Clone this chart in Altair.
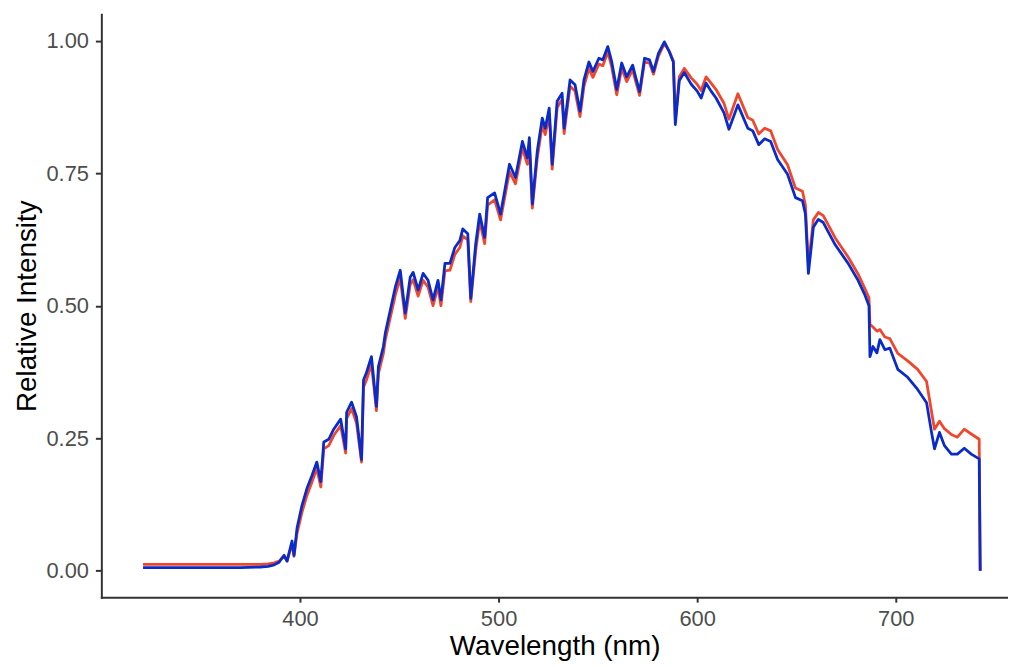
import altair as alt
import pandas as pd

wavelength = [321, 330, 340, 350, 360, 370, 380, 384, 387, 389.5, 391, 392, 393.5, 396, 397, 398.5,
              401, 403.5, 406, 408.5, 410.5, 412, 414.5, 417, 420.5, 423, 423.5, 426, 428.5, 431, 432,
              433.5, 436, 438.5, 439.5, 442, 443, 445.5, 448, 450.5, 453, 455.5, 457, 459.5, 462, 464.5,
              467, 469.5, 471, 473, 475.5, 478, 480.5, 482, 484.5, 486, 488.5, 490.5, 493, 494.5, 498,
              501, 505.5, 508.5, 512, 514.5, 515.5, 517, 519.5, 522, 523.5, 525.5, 527, 529.5, 532, 533,
              536, 538.5, 541, 543, 545.5, 547.5, 550.5, 552.5, 555, 557, 559.5, 562, 564.5, 567.5, 569,
              571, 573.5, 576, 578, 580.5, 583.5, 586, 588, 589, 591, 593.5, 597, 600, 602, 604.5, 607,
              609.5, 613.5, 616, 620.5, 625.5, 628, 631, 634, 637, 640.5, 645.5, 649.5, 653, 654.5, 656,
              658.5, 661, 663.5, 669.5, 676, 681, 684.5, 686.5, 687, 688.5, 690.5, 692, 694.5, 697, 701,
              706, 711, 715.5, 718, 719.5, 722, 724.5, 728, 731, 734.5, 738, 742, 742.5]

blue_intensity = [0.006, 0.006, 0.006, 0.006, 0.006, 0.006, 0.007, 0.008, 0.011, 0.016, 0.024, 0.029,
                  0.018, 0.056, 0.029, 0.080,
                  0.123, 0.155, 0.179, 0.205, 0.168, 0.243, 0.248, 0.267, 0.286, 0.230, 0.299, 0.318,
                  0.290, 0.210, 0.360,
                  0.374, 0.404, 0.310, 0.385, 0.423, 0.449, 0.492, 0.535, 0.567, 0.486, 0.554, 0.563,
                  0.530, 0.561, 0.548,
                  0.511, 0.548, 0.511, 0.580, 0.580, 0.610, 0.623, 0.645, 0.636, 0.514, 0.617, 0.673,
                  0.629, 0.704, 0.713,
                  0.673, 0.767, 0.742, 0.810, 0.779, 0.817, 0.692, 0.792, 0.854, 0.835, 0.873, 0.767,
                  0.886, 0.901, 0.835,
                  0.926, 0.917, 0.867, 0.926, 0.960, 0.942, 0.967, 0.964, 0.989, 0.960, 0.908, 0.958,
                  0.932, 0.954, 0.932,
                  0.904, 0.967, 0.964, 0.942, 0.976, 0.998, 0.979, 0.960, 0.842, 0.925, 0.940, 0.918,
                  0.905, 0.892, 0.920, 0.905,
                  0.892, 0.864, 0.833, 0.879, 0.835, 0.830, 0.804, 0.815, 0.810, 0.776, 0.748, 0.704,
                  0.698, 0.673, 0.561,
                  0.648, 0.663, 0.657, 0.615, 0.580, 0.548, 0.520, 0.500, 0.404, 0.423, 0.411, 0.436,
                  0.417, 0.420, 0.380,
                  0.365, 0.342, 0.317, 0.261, 0.230, 0.261, 0.236, 0.220, 0.220, 0.231, 0.220, 0.211, 0.0]

red_intensity = [0.012, 0.012, 0.012, 0.012, 0.012, 0.012, 0.012, 0.013, 0.015, 0.018, 0.024, 0.028,
                 0.018, 0.050, 0.027, 0.070,
                 0.110, 0.142, 0.167, 0.193, 0.158, 0.230, 0.236, 0.255, 0.274, 0.222, 0.287, 0.306,
                 0.278, 0.205, 0.346,
                 0.360, 0.390, 0.302, 0.372, 0.410, 0.436, 0.478, 0.520, 0.552, 0.476, 0.540, 0.549,
                 0.518, 0.548, 0.535,
                 0.500, 0.535, 0.500, 0.566, 0.567, 0.597, 0.610, 0.632, 0.624, 0.508, 0.604, 0.660,
                 0.617, 0.690, 0.700,
                 0.662, 0.753, 0.730, 0.797, 0.767, 0.804, 0.684, 0.779, 0.841, 0.823, 0.860, 0.758,
                 0.874, 0.889, 0.825,
                 0.914, 0.905, 0.857, 0.914, 0.948, 0.931, 0.956, 0.953, 0.979, 0.950, 0.898, 0.948,
                 0.923, 0.945, 0.924,
                 0.897, 0.960, 0.958, 0.937, 0.971, 0.995, 0.980, 0.962, 0.850, 0.932, 0.948, 0.930,
                 0.918, 0.906, 0.932, 0.920,
                 0.908, 0.882, 0.852, 0.900, 0.855, 0.850, 0.824, 0.835, 0.830, 0.795, 0.766, 0.722,
                 0.716, 0.690, 0.575,
                 0.662, 0.676, 0.670, 0.628, 0.592, 0.560, 0.532, 0.515, 0.465, 0.460, 0.452, 0.455,
                 0.441, 0.438, 0.410,
                 0.396, 0.380, 0.357, 0.300, 0.267, 0.282, 0.268, 0.257, 0.252, 0.267, 0.258, 0.248, 0.0]

x_ticks = [400, 500, 600, 700]
y_ticks = [0.0, 0.25, 0.5, 0.75, 1.0]

df = pd.DataFrame({"Wavelength": wavelength, "Blue": blue_intensity, "Red": red_intensity})

FONT = "Liberation Sans"
x_scale = alt.Scale(domain=[300, 756.5], nice=False, zero=False)
y_scale = alt.Scale(domain=[-0.05, 1.05], nice=False, zero=False)

common = dict(grid=False, domainColor="#333333", domainWidth=2, domainCap="square",
              tickColor="#333333", tickWidth=2, labelFontSize=22, labelColor="#4D4D4D",
              labelFont=FONT, titleFont=FONT, titleFontSize=28, titleFontWeight="normal",
              titleColor="#000000")

x_axis = alt.Axis(title="Wavelength (nm)", values=x_ticks, format="d", tickSize=5,
                  labelPadding=7, titleY=50, titleBaseline="middle", **common)
y_axis = alt.Axis(title="Relative Intensity", values=y_ticks, format=".2f", tickSize=6,
                  labelPadding=7, titleX=-74, titleY=293.5, titleBaseline="middle",
                  titleAlign="center", titleAngle=-90, **common)

red = alt.Chart(df).mark_line(color="#F0462D", strokeWidth=2.8, strokeJoin="round").encode(
    x=alt.X("Wavelength:Q", scale=x_scale, axis=x_axis),
    y=alt.Y("Red:Q", scale=y_scale, axis=y_axis),
)
blue = alt.Chart(df).mark_line(color="#0A2BCB", strokeWidth=2.8, strokeJoin="round").encode(
    x=alt.X("Wavelength:Q", scale=x_scale, axis=x_axis),
    y=alt.Y("Blue:Q", scale=y_scale, axis=y_axis),
)

chart = alt.layer(red, blue).properties(
    width=913, height=587,
    autosize=alt.AutoSizeParams(type="none"),
    padding={"left": 94, "top": 4, "right": 0, "bottom": 72},
    background="white",
).configure_view(stroke=None)

chart.save("out.html", embed_options={"renderer": "svg", "actions": False})
